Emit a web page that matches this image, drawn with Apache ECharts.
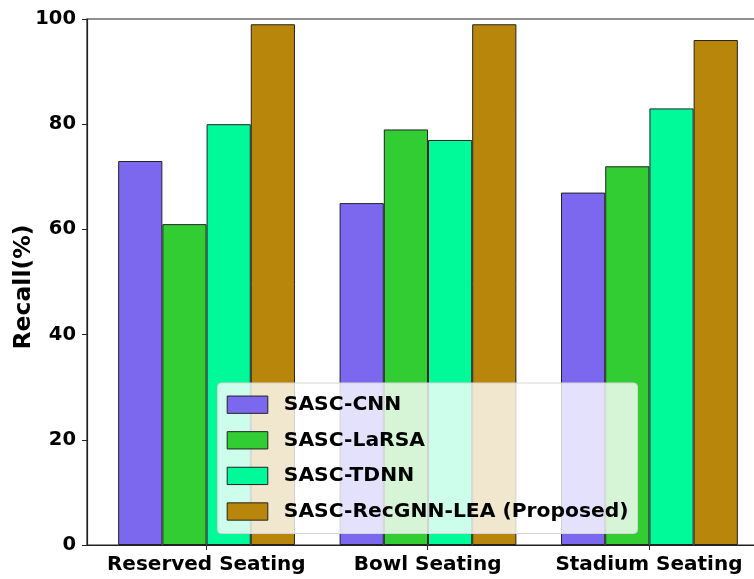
<!DOCTYPE html>
<html>
<head>
<meta charset="utf-8">
<script src="https://cdn.jsdelivr.net/npm/echarts@6/dist/echarts.min.js"></script>
<style>
  html, body { margin: 0; padding: 0; background: #fff; overflow: hidden; }
  #chart { width: 800px; height: 579px; }
</style>
</head>
<body>
<div id="chart"></div>
<script>
// Seating layouts compared on recall
const categories = ['Reserved Seating', 'Bowl Seating', 'Stadium Seating'];
const seriesNames = ['SASC-CNN', 'SASC-LaRSA', 'SASC-TDNN', 'SASC-RecGNN-LEA (Proposed)'];
const cnnValues = [73, 65, 67];
const larsaValues = [61, 79, 72];
const tdnnValues = [80, 77, 83];
const proposedValues = [99, 99, 96];
const yTicks = [0, 20, 40, 60, 80, 100];

const colors = ['#7B68EE', '#32CD32', '#00FA9A', '#B8860B'];
const allValues = [cnnValues, larsaValues, tdnnValues, proposedValues];
const FONT = 'DejaVu Sans';

const chart = echarts.init(document.getElementById('chart'), null, { renderer: 'canvas' });

// Bars sit on a numeric x scale (category k at x = k) so the plot keeps
// a small margin beyond the outer bars; a second, label-only category
// axis puts the group names and ticks under each group centre.
const series = seriesNames.map((name, i) => ({
  name: name,
  type: 'bar',
  xAxisIndex: 0,
  yAxisIndex: 0,
  barWidth: 44.2,
  barGap: '0%',
  itemStyle: { color: colors[i], borderColor: '#222', borderWidth: 1 },
  data: allValues[i].map((v, k) => [k, v])
}));

chart.setOption({
  animation: false,
  backgroundColor: '#fff',
  grid: [
    {
      left: 87, top: 19, width: 682, height: 526,
      outerBoundsMode: 'none',
      show: true, borderColor: '#222', borderWidth: 1.2, backgroundColor: 'transparent'
    },
    {
      left: 95.6, top: 19, width: 664, height: 526,
      outerBoundsMode: 'none',
      show: false
    }
  ],
  xAxis: [
    {
      type: 'value',
      gridIndex: 0,
      min: -0.54, max: 2.54,
      splitLine: { show: false },
      axisLine: { show: true, onZero: false, lineStyle: { color: '#222', width: 1.2 } },
      axisTick: { show: false },
      axisLabel: { show: false }
    },
    {
      type: 'category',
      gridIndex: 1,
      data: categories,
      axisLine: { show: false, onZero: false },
      splitLine: { show: false },
      axisTick: { show: true, alignWithLabel: true, length: 5, lineStyle: { color: '#222' } },
      axisLabel: {
        interval: 0,
        color: '#000', fontFamily: FONT, fontWeight: 'bold', fontSize: 20, margin: 10
      }
    }
  ],
  yAxis: [
    {
      type: 'value',
      gridIndex: 0,
      min: 0, max: 100, interval: 20,
      name: 'Recall(%)',
      nameLocation: 'middle',
      nameMoveOverlap: false,
      nameGap: 51,
      nameTextStyle: {
        color: '#000', fontFamily: FONT, fontWeight: 'bold', fontSize: 23.5,
        padding: [0, 10, 0, 0]
      },
      splitLine: { show: false },
      axisLine: { show: true, onZero: false, lineStyle: { color: '#222', width: 1.2 } },
      axisTick: { show: true, length: 5, lineStyle: { color: '#222' } },
      axisLabel: {
        formatter: v => (yTicks.includes(v) ? String(v) : ''),
        color: '#000', fontFamily: FONT, fontWeight: 'bold', fontSize: 19.5, margin: 11
      }
    },
    {
      type: 'value',
      gridIndex: 1,
      min: 0, max: 100,
      show: false
    }
  ],
  legend: {
    data: seriesNames,
    orient: 'vertical',
    left: 217.5, top: 383,
    icon: 'rect',
    itemWidth: 40.6, itemHeight: 17.3, itemGap: 15.6,
    padding: [11.7, 9, 12, 9.2],
    backgroundColor: 'rgba(255,255,255,0.8)',
    borderColor: '#d6d6d6', borderWidth: 1, borderRadius: 4,
    itemStyle: { borderColor: '#222', borderWidth: 1 },
    textStyle: {
      color: '#000', fontFamily: FONT, fontWeight: 'bold', fontSize: 20.3,
      lineHeight: 17, padding: [0, 0, 0, 11]
    }
  },
  series: series
});
</script>
</body>
</html>
